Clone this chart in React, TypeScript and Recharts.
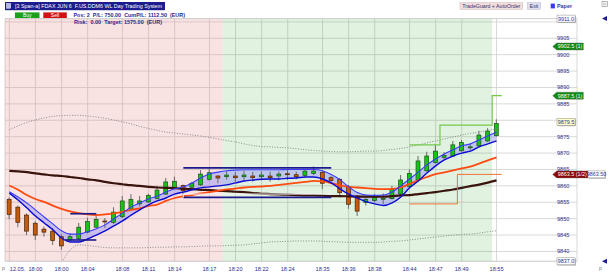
import React from 'react';
import {
  ComposedChart, Bar, Line, Area, XAxis, YAxis, CartesianGrid, ReferenceArea, ReferenceLine,
} from 'recharts';

const FONT = '"Liberation Sans", Arial, sans-serif';
const NAVY = '#30308f';

// ---- x axis ticks (candle index -> label)
const tickIndex = [0, 3, 6, 9, 13, 16, 19, 23, 26, 29, 32, 36, 39, 42, 46, 49, 52, 56];
const tickLabels = ['12.05.', '18:00', '18:00', '18:04', '18:08', '18:11', '18:14', '18:17', '18:20', '18:22', '18:24', '18:35', '18:36', '18:38', '18:44', '18:47', '18:49', '18:55'];
const priceTicks = [9840, 9845, 9850, 9855, 9860, 9865, 9870, 9875, 9880, 9885, 9890, 9895, 9900, 9905, 9910];

// ---- candles
const opens = [9855.9, 9853.5, 9851.1, 9848.6, 9846.8, 9846.2, 9844.5, 9843.5, 9844.0, 9845.9,
  9847.4, 9849.3, 9848.9, 9850.6, 9852.9, 9854.5, 9855.1, 9856.2, 9857.5, 9859.3,
  9860.1, 9859.6, 9860.3, 9862.0, 9863.0, 9862.8, 9863.0, 9862.8, 9863.0, 9862.8,
  9863.0, 9863.0, 9863.7, 9863.4, 9863.2, 9863.8, 9864.1, 9862.5, 9862.0, 9859.8,
  9856.9, 9854.9, 9855.5, 9856.1, 9856.1, 9857.5, 9859.8, 9861.8, 9864.6, 9867.1,
  9868.7, 9869.1, 9870.7, 9871.8, 9872.2, 9873.7, 9875.3];
const highs = [9856.5, 9854.0, 9851.6, 9849.2, 9847.6, 9847.1, 9845.3, 9845.6, 9848.7, 9850.3,
  9851.1, 9850.2, 9853.5, 9856.9, 9857.5, 9856.9, 9857.6, 9860.0, 9862.4, 9862.8,
  9860.4, 9861.2, 9864.8, 9865.2, 9863.3, 9864.5, 9864.2, 9864.6, 9864.3, 9864.4,
  9864.3, 9864.4, 9864.8, 9864.3, 9865.0, 9865.9, 9864.5, 9863.0, 9862.4, 9860.3,
  9857.2, 9856.9, 9857.6, 9857.7, 9860.0, 9863.3, 9865.0, 9869.1, 9870.4, 9872.5,
  9870.3, 9873.7, 9874.0, 9872.7, 9876.8, 9877.6, 9880.3];
const lows = [9849.8, 9847.4, 9845.0, 9843.5, 9844.5, 9842.0, 9840.5, 9843.2, 9843.5, 9845.5,
  9847.2, 9847.2, 9848.4, 9850.2, 9852.3, 9853.7, 9854.8, 9855.9, 9857.2, 9859.0,
  9856.5, 9858.9, 9860.0, 9861.6, 9860.8, 9861.9, 9861.2, 9861.6, 9861.3, 9861.7,
  9861.3, 9861.7, 9861.8, 9862.0, 9862.5, 9863.3, 9859.0, 9860.5, 9856.5, 9853.0,
  9850.8, 9854.0, 9854.9, 9854.5, 9855.8, 9857.2, 9859.5, 9861.4, 9864.3, 9866.8,
  9868.2, 9868.9, 9870.4, 9871.0, 9871.9, 9873.4, 9875.0];
const closes = [9851.3, 9848.9, 9846.2, 9845.0, 9845.9, 9843.3, 9841.7, 9844.5, 9847.4, 9849.1,
  9849.8, 9849.1, 9852.0, 9855.4, 9855.9, 9855.4, 9857.1, 9858.7, 9861.2, 9861.4,
  9858.5, 9860.8, 9863.6, 9864.0, 9862.4, 9863.3, 9862.5, 9863.3, 9862.5, 9863.3,
  9862.5, 9863.6, 9863.5, 9862.8, 9864.5, 9864.5, 9860.8, 9861.6, 9857.9, 9854.4,
  9852.3, 9855.9, 9856.5, 9856.2, 9859.0, 9861.8, 9863.8, 9867.6, 9869.1, 9870.6,
  9869.3, 9872.5, 9873.2, 9871.9, 9875.5, 9876.7, 9879.0];

// ---- indicators
const bandUpper = [9858.2, 9856.6, 9854.8, 9852.7, 9850.5, 9848.4, 9846.3, 9845.3, 9845.3, 9846.0,
  9846.9, 9848.1, 9849.9, 9851.7, 9853.6, 9854.8, 9856.0, 9856.9, 9858.1, 9859.1,
  9859.7, 9860.9, 9862.4, 9863.6, 9864.2, 9864.6, 9864.8, 9864.9, 9864.9, 9864.9,
  9864.9, 9864.9, 9865.0, 9865.0, 9865.0, 9865.0, 9864.6, 9863.5, 9861.9, 9859.7,
  9858.0, 9857.2, 9857.1, 9857.2, 9858.1, 9860.0, 9862.1, 9864.2, 9866.4, 9868.2,
  9869.7, 9871.0, 9872.2, 9872.8, 9874.0, 9875.2, 9876.4];
const bandLower = [9857.8, 9855.7, 9853.3, 9850.8, 9848.7, 9846.6, 9844.1, 9842.9, 9842.9, 9843.8,
  9845.0, 9846.3, 9847.8, 9849.3, 9851.1, 9852.7, 9854.2, 9855.4, 9856.3, 9857.5,
  9858.1, 9858.8, 9859.4, 9859.7, 9860.0, 9860.3, 9860.9, 9861.5, 9861.8, 9862.0,
  9862.1, 9862.1, 9862.3, 9862.4, 9862.7, 9862.7, 9862.1, 9860.9, 9859.1, 9857.5,
  9856.3, 9855.2, 9854.5, 9854.0, 9854.8, 9856.6, 9859.4, 9861.5, 9863.9, 9866.1,
  9867.9, 9869.1, 9870.0, 9870.6, 9871.9, 9872.8, 9873.7];
const emaFast = [9860.1, 9858.8, 9857.2, 9856.0, 9855.1, 9854.0, 9853.0, 9852.2, 9851.7, 9851.3,
  9851.1, 9851.3, 9851.6, 9852.1, 9852.7, 9853.1, 9853.9, 9854.3, 9855.4, 9856.3,
  9856.8, 9857.2, 9857.7, 9858.1, 9858.5, 9858.9, 9859.2, 9859.5, 9859.7, 9859.8,
  9860.0, 9860.3, 9860.6, 9860.9, 9861.2, 9861.5, 9861.4, 9860.8, 9860.2, 9859.7,
  9859.5, 9859.3, 9859.1, 9859.0, 9859.1, 9859.5, 9860.6, 9861.7, 9862.7, 9863.6,
  9864.1, 9864.7, 9865.3, 9865.9, 9866.8, 9867.8, 9868.7];
const emaSlow = [9864.6, 9864.4, 9864.2, 9863.8, 9863.5, 9863.2, 9863.0, 9862.7, 9862.4, 9862.0,
  9861.7, 9861.2, 9860.8, 9860.5, 9860.2, 9860.0, 9859.7, 9859.5, 9859.4, 9859.3,
  9859.1, 9859.0, 9858.8, 9858.7, 9858.5, 9858.4, 9858.2, 9858.1, 9857.8, 9857.6,
  9857.5, 9857.4, 9857.3, 9857.2, 9857.1, 9857.1, 9857.0, 9856.9, 9856.9, 9856.8,
  9856.7, 9856.7, 9856.7, 9856.7, 9856.9, 9857.1, 9857.2, 9857.5, 9857.8, 9858.1,
  9858.5, 9858.9, 9859.4, 9859.9, 9860.4, 9861.0, 9861.7];
const bbUpper = [9877.1, 9878.3, 9879.3, 9880.1, 9880.7, 9881.2, 9881.4, 9881.5, 9881.5, 9881.3,
  9881.0, 9880.6, 9880.1, 9879.5, 9878.9, 9878.1, 9877.5, 9876.9, 9876.4, 9876.1,
  9875.8, 9875.5, 9875.2, 9874.8, 9874.3, 9873.8, 9873.4, 9872.8, 9872.3, 9872.0,
  9871.9, 9871.7, 9871.6, 9871.3, 9871.0, 9870.8, 9870.6, 9870.5, 9870.4, 9870.4,
  9870.5, 9870.6, 9870.6, 9870.8, 9871.1, 9871.4, 9871.9, 9872.5, 9873.1, 9873.7,
  9874.3, 9874.9, 9875.5, 9876.0, 9876.4, 9876.9, 9877.4];
const bbLower = [9825.2, 9826.7, 9828.3, 9830.1, 9831.9, 9834.1, 9836.8, 9840.5, 9842.0, 9841.8,
  9841.5, 9841.2, 9841.1, 9841.1, 9841.1, 9841.1, 9841.2, 9841.3, 9841.3, 9841.4,
  9841.4, 9841.5, 9841.6, 9841.7, 9841.7, 9841.8, 9841.9, 9842.0, 9842.3, 9842.6,
  9842.9, 9843.0, 9843.1, 9843.2, 9843.2, 9843.2, 9843.1, 9843.0, 9842.9, 9842.8,
  9842.8, 9842.8, 9842.8, 9842.9, 9843.1, 9843.2, 9843.5, 9843.8, 9844.1, 9844.4,
  9844.7, 9845.0, 9845.2, 9845.3, 9845.6, 9846.0, 9846.3];

// ---- trade levels
const targetX = [46, 49.5, 55.5, 56.6];
const targetY = [9872.5, 9878.5, 9887.5, 9887.5];
const stopX = [46, 51.5, 56.6];
const stopY = [9854.5, 9863.5, 9863.5];
const rangeX1 = [7, 6.4, 20, 20, 20];
const rangeX2 = [10, 10, 37, 37, 37];
const rangeY = [9851.5, 9843.5, 9865.5, 9856.5, 9857.5];
const rangeKind = ['navy', 'navy', 'navy', 'navy', 'light'];

// ---- session shading
const sessionStart = [-0.5, 24.5];
const sessionEnd = [24.5, 55.5];
const sessionColor = ['#e88a8a', '#37a837'];
const sessionOpacity = [0.25, 0.15];

// ---- price markers on the right
const markerPrice = [9911.0, 9902.5, 9887.5, 9879.5, 9863.5, 9837.0];
const markerText = ['9911.0', '9902.5 (1)', '9887.5 (1)', '9879.5', '9863.5 (1/2)', '9837.0'];
const markerKind = ['edge', 'green', 'green', 'last', 'red', 'edge'];
// axis labels hidden behind the boxed price markers
const coveredTicks = [9910, 9880];

const data = opens.map((o, i) => ({
  i,
  o,
  h: highs[i],
  l: lows[i],
  c: closes[i],
  range: [lows[i], highs[i]],
  band: [bandLower[i], bandUpper[i]],
  bu: bandUpper[i],
  bl: bandLower[i],
  ef: emaFast[i],
  es: emaSlow[i],
  bbu: bbUpper[i],
  bbl: bbLower[i],
}));
const targetData = targetX.map((x, k) => ({ i: x, v: targetY[k] }));
const stopData = stopX.map((x, k) => ({ i: x, v: stopY[k] }));

const Candle = (props: any) => {
  const { x, y, width, height, payload } = props;
  if (!payload || x == null) return null;
  const { o, h, l, c } = payload;
  const top = Math.min(y, y + height);
  const bottom = Math.max(y, y + height);
  const ratio = (bottom - top) / (h - l || 1);
  const yOf = (v: number) => top + (h - v) * ratio;
  const bull = c >= o;
  const bTop = yOf(Math.max(o, c));
  const bBot = yOf(Math.min(o, c));
  const cx = x + width / 2;
  return (
    <g>
      <line x1={cx} x2={cx} y1={top} y2={bottom} stroke="#6a6a6a" strokeWidth={1} />
      <rect
        x={x}
        y={bTop}
        width={width}
        height={Math.max(bBot - bTop, 1)}
        fill={bull ? '#16c416' : '#c45a0a'}
        stroke={bull ? '#1d4d1d' : '#4a2206'}
        strokeWidth={0.7}
      />
    </g>
  );
};

const XTick = (props: any) => {
  const { x, y, payload } = props;
  const idx = tickIndex.indexOf(payload.value);
  if (idx < 0) return null;
  const first = idx === 0;
  return (
    <text x={first ? x + 0.5 : x} y={y + 9.3} textAnchor={first ? 'start' : 'middle'} fontSize={5.6} fill={NAVY} fontFamily={FONT}>
      {tickLabels[idx]}
    </text>
  );
};

const YTick = (props: any) => {
  const { x, y, payload } = props;
  if (coveredTicks.indexOf(payload.value) >= 0) return <g />;
  return (
    <text x={x - 20} y={y + 2} textAnchor="start" fontSize={5.6} fill={NAVY} fontFamily={FONT}>
      {payload.value}
    </text>
  );
};

const makeMarker = (kind: string, text: string) => (props: any) => {
  const vb = props.viewBox || {};
  const right = (vb.x || 0) + (vb.width || 0);
  const cy = vb.y || 0;
  const h = 7;
  if (kind === 'edge' || kind === 'last') {
    const x0 = right - 20;
    const w = 18;
    return (
      <g>
        <rect x={x0 + 0.8} y={cy - h / 2 + 0.8} width={w} height={h} fill="#b0b0b0" />
        <rect x={x0} y={cy - h / 2} width={w} height={h} fill={kind === 'last' ? '#ffffc6' : '#ffffff'} stroke="#8c8c8c" strokeWidth={0.5} />
        <text x={x0 + w / 2} y={cy + 2} textAnchor="middle" fontSize={5.4} fill={NAVY} fontFamily={FONT}>{text}</text>
        {kind === 'edge' && (
          <polygon points={`${right + 25},${cy} ${right + 30},${cy - 2.5} ${right + 30},${cy + 2.5}`} fill="#1a1a9a" />
        )}
      </g>
    );
  }
  const tip = right - 24.3;
  const w = kind === 'red' ? 31.3 : 26.6;
  const fill = kind === 'red' ? '#8c0808' : '#128a12';
  return (
    <g>
      <polygon
        points={`${tip},${cy} ${tip + 4},${cy - h / 2} ${tip + 4 + w},${cy - h / 2} ${tip + 4 + w},${cy + h / 2} ${tip + 4},${cy + h / 2}`}
        fill={fill}
        stroke="#606060"
        strokeWidth={0.4}
      />
      <text x={tip + 4 + w / 2} y={cy + 2} textAnchor="middle" fontSize={5.4} fill="#ffffff" fontFamily={FONT}>{text}</text>
      {kind === 'red' && (
        <g>
          <rect x={tip + 4 + w + 0.8} y={cy - h / 2 + 0.8} width={17} height={h} fill="#b0b0b0" />
          <rect x={tip + 4 + w} y={cy - h / 2} width={17} height={h} fill="#ffffff" stroke="#8c8c8c" strokeWidth={0.5} />
          <text x={tip + 4 + w + 8.5} y={cy + 2} textAnchor="middle" fontSize={5.4} fill={NAVY} fontFamily={FONT}>9863.50</text>
        </g>
      )}
    </g>
  );
};

const Header = () => (
  <svg width={609} height={275} style={{ position: 'absolute', left: 0, top: 0, pointerEvents: 'none' }} fontFamily={FONT}>
    <rect x={5} y={2} width={160} height={8.2} fill="#1c1c8c" />
    <rect x={6.6} y={3.6} width={4} height={4.6} fill="#b8b8e8" stroke="#ffffff" strokeWidth={0.5} />
    <text x={15} y={8.2} fontSize={5.6} fill="#ffffff" textLength={147} lengthAdjust="spacingAndGlyphs" xmlSpace="preserve">
      {'[3 Span-a] FDAX JUN 6  F.US.DDM6 WL Day Trading System'}
    </text>
    <rect x={15} y={12.4} width={24.5} height={5.6} fill="#1aa01a" />
    <text x={27.2} y={16.9} fontSize={5} fill="#ffffff" textAnchor="middle">Buy</text>
    <rect x={43.3} y={12.4} width={23.5} height={5.6} fill="#d21212" />
    <text x={55} y={16.9} fontSize={5} fill="#ffffff" textAnchor="middle">Sell</text>
    <text x={73.5} y={17} fontSize={5.4} fontWeight="bold" fill="#2a2a8c" textLength={111.5} lengthAdjust="spacingAndGlyphs" xmlSpace="preserve">
      {'Pos: 2  P/L: 750.00  CumP/L: 1112.50  (EUR)'}
    </text>
    <text x={74} y={24.3} fontSize={5.4} fontWeight="bold" fill="#2a2a8c" textLength={88} lengthAdjust="spacingAndGlyphs" xmlSpace="preserve">
      {'Risk:  0.00  Target: 1575.00  (EUR)'}
    </text>
    <rect x={460} y={2.7} width={62.7} height={6.6} fill="#f3dede" stroke="#c9b4b4" strokeWidth={0.5} />
    <text x={491.3} y={7.8} fontSize={5} fill="#303070" textAnchor="middle" textLength={58} lengthAdjust="spacingAndGlyphs">TradeGuard + AutoOrder</text>
    <rect x={527.3} y={2.7} width={13.4} height={6.6} fill="#dedeec" stroke="#b8b8cc" strokeWidth={0.5} />
    <text x={534} y={7.8} fontSize={5} fill="#303070" textAnchor="middle">Exit</text>
    <rect x={550.7} y={3.6} width={4.2} height={4.8} fill="#3a3aff" />
    <text x={557} y={8} fontSize={5.4} fontWeight="bold" fill="#3a3aa6">Paper</text>
    <rect x={602} y={1.6} width={5.5} height={4.8} fill="#ffffff" stroke="#8a8a8a" strokeWidth={0.6} />
    <line x1={603} x2={606.5} y1={3.2} y2={3.2} stroke="#8a8a8a" strokeWidth={0.5} />
    <line x1={603} x2={606.5} y1={4.8} y2={4.8} stroke="#8a8a8a" strokeWidth={0.5} />
    <text x={2} y={270} fontSize={5} fill="#707070">p</text>
    <text x={599} y={270} fontSize={5} fill="#707070">p</text>
  </svg>
);

export default function App() {
  return (
    <div style={{ position: 'absolute', left: 0, top: 0, width: 609, height: 275, background: '#ffffff' }}>
      <ComposedChart
        width={609}
        height={275}
        data={data}
        margin={{ top: 18.6, right: 0, bottom: 0, left: 5 }}
      >
        {sessionStart.map((s, k) => (
          <ReferenceArea
            key={`s${k}`}
            x1={s}
            x2={sessionEnd[k]}
            y1={9837}
            y2={9911}
            fill={sessionColor[k]}
            fillOpacity={sessionOpacity[k]}
            stroke="none"
            ifOverflow="visible"
          />
        ))}
        <CartesianGrid stroke="#cfcfcf" strokeWidth={0.8} />
        <XAxis
          dataKey="i"
          type="number"
          domain={[-0.5, 65.25]}
          ticks={tickIndex}
          interval={0}
          height={13.7}
          tickLine={false}
          axisLine={false}
          tickSize={0}
          tickMargin={0}
          tick={XTick}
          allowDataOverflow
        />
        <YAxis
          orientation="right"
          type="number"
          domain={[9837, 9911]}
          ticks={priceTicks}
          interval={0}
          width={32}
          tickLine={false}
          axisLine={false}
          tickSize={0}
          tickMargin={0}
          tick={YTick}
          allowDataOverflow
        />
        <ReferenceLine y={9911} stroke="#cfcfcf" strokeWidth={0.8} />
        <ReferenceLine y={9837} stroke="#cfcfcf" strokeWidth={0.8} />
        <Line dataKey="bbu" type="monotone" stroke="#8a8a8a" strokeWidth={1} strokeDasharray="1 1.6" dot={false} isAnimationActive={false} />
        <Line dataKey="bbl" type="monotone" stroke="#8a8a8a" strokeWidth={1} strokeDasharray="1 1.6" dot={false} isAnimationActive={false} />
        <Line dataKey="es" type="monotone" stroke="#3a140c" strokeWidth={2.2} dot={false} isAnimationActive={false} />
        <Line dataKey="ef" type="monotone" stroke="#ff4a10" strokeWidth={1.8} dot={false} isAnimationActive={false} />
        <Area dataKey="band" type="monotone" fill="#9a9af4" fillOpacity={0.5} stroke="none" isAnimationActive={false} />
        <Line dataKey="bu" type="monotone" stroke="#3a3aff" strokeWidth={1.1} dot={false} isAnimationActive={false} />
        <Line dataKey="bl" type="monotone" stroke="#0a0ad2" strokeWidth={1.4} dot={false} isAnimationActive={false} />
        {rangeY.map((v, k) => (
          <ReferenceLine
            key={`r${k}`}
            segment={[{ x: rangeX1[k], y: v }, { x: rangeX2[k], y: v }]}
            stroke={rangeKind[k] === 'navy' ? '#1a1a8a' : '#f4f4f4'}
            strokeWidth={rangeKind[k] === 'navy' ? 1.6 : 1}
          />
        ))}
        <ReferenceLine segment={[{ x: 20, y: 9857.5 }, { x: 20, y: 9856.5 }]} stroke="#f4f4f4" strokeWidth={1} />
        <Bar dataKey="range" barSize={5} shape={Candle} isAnimationActive={false} />
        <Line data={targetData} dataKey="v" type="stepAfter" stroke="#74c84a" strokeWidth={1.2} dot={false} isAnimationActive={false} />
        <Line data={stopData} dataKey="v" type="stepAfter" stroke="#f0703a" strokeWidth={1} dot={false} isAnimationActive={false} />
        {markerPrice.map((p, k) => (
          <ReferenceLine
            key={`m${k}`}
            y={p}
            stroke="none"
            ifOverflow="visible"
            label={{ content: makeMarker(markerKind[k], markerText[k]) }}
          />
        ))}
      </ComposedChart>
      <Header />
    </div>
  );
}
